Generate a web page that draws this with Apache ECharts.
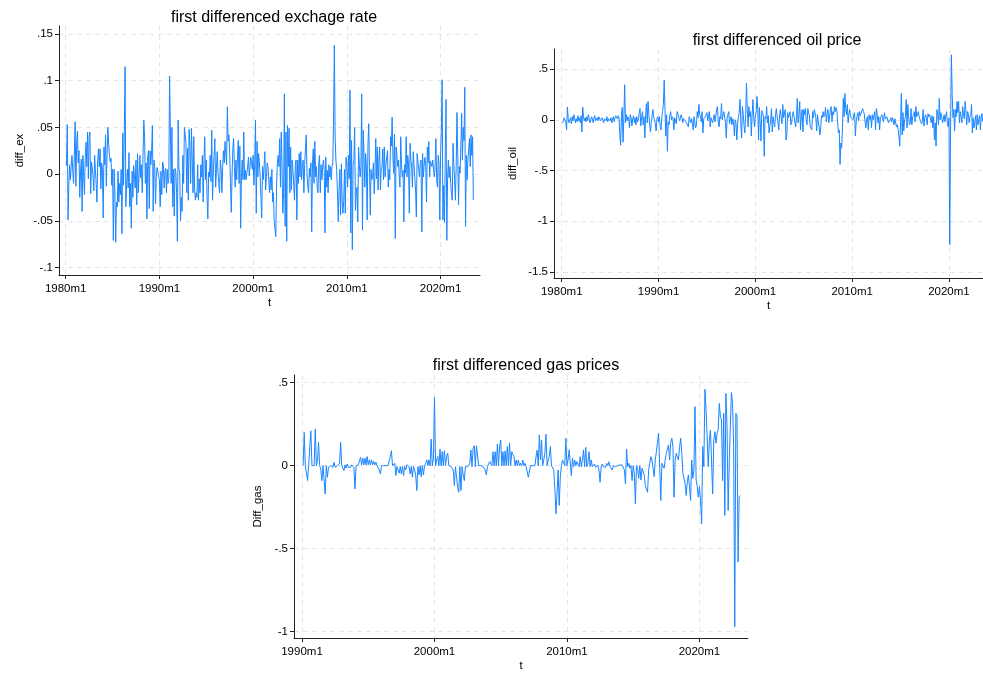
<!DOCTYPE html>
<html>
<head>
<meta charset="utf-8">
<script src="https://cdn.jsdelivr.net/npm/echarts@6/dist/echarts.min.js"></script>
<style>
  html, body { margin: 0; padding: 0; background: #fff; }
  #chart { width: 983px; height: 675px; }
</style>
</head>
<body>
<div id="chart"></div>
<script>
// monthly time index as in Stata %tm (0 = 1960m1)
const exStart = 241;   // 1980m2
const oilStart = 241;  // 1980m2
const gasStart = 361;  // 1990m2

// first differenced exchange rate, one row per year
const diffEx = [
  .009,.053,-.049,-.012,.010,-.006,.008,.020,.018,-.010,.019,
  .056,-.013,.033,.046,.012,.025,-.025,.003,.016,-.040,.020,.018,
  -.022,.018,.034,.008,.045,-.005,.040,.045,-.021,.013,.012,-.002,
  -.018,.020,.018,-.011,-.030,.015,.027,.008,.027,-.016,.012,.005,
  -.047,.029,.010,.042,-.013,.020,.050,.032,.020,.013,.017,-.012,
  .005,-.071,.005,-.020,-.073,-.030,-.035,.003,-.030,-.010,-.022,.005,
  -.064,.044,-.012,.044,.115,-.035,-.009,.005,-.015,.023,-.035,-.010,
  -.058,.003,-.025,.009,.010,-.015,.015,-.033,.022,-.020,.000,.020,
  -.004,.010,-.020,.020,.058,.040,-.010,.012,-.048,.018,.025,-.037,
  .025,.010,.025,.052,-.040,.015,.008,-.032,-.003,.007,.005,-.002,
  -.007,-.035,.003,-.022,.013,.010,-.015,.003,.006,-.020,.005,-.010,
  -.005,.105,.050,-.010,.050,-.035,.005,-.045,.006,.002,-.020,-.072,
  .058,.005,.002,-.050,-.025,-.040,.020,-.010,.050,.042,.033,-.020,
  .028,-.028,.048,.030,-.010,.049,.015,-.020,.040,-.015,-.028,-.020,
  -.025,.010,-.028,-.005,-.020,.010,-.003,.020,-.030,.012,.040,-.006,
  .015,-.025,-.048,.002,-.003,.020,-.008,.047,-.028,.001,.020,.038,
  -.014,.005,.024,.001,-.010,-.020,.015,.006,-.020,.008,.025,.012,
  .035,.022,.010,.072,.035,.042,.022,-.010,-.041,-.001,.027,.038,
  .008,-.014,.015,-.006,.020,.036,-.010,.030,-.058,-.003,.015,-.006,
  .045,-.006,.004,-.006,-.008,.008,.018,-.002,.008,.018,.011,.005,
  .020,-.012,.011,.058,-.042,.035,-.003,.022,.012,-.003,-.025,-.047,
  .008,-.006,.008,.024,-.017,-.003,.012,.008,.008,-.020,-.003,-.017,
  .005,-.030,-.020,-.051,-.049,-.067,-.014,.011,.020,.008,.038,-.014,
  .045,.010,-.042,-.020,.086,-.056,.045,-.072,.052,.008,.049,-.020,
  .029,-.017,.015,.004,-.012,-.028,.010,.015,-.049,.015,-.010,.022,
  -.003,.024,-.006,.008,.015,-.020,.010,.028,.042,.001,-.014,-.020,
  .006,-.003,.012,-.062,.011,.027,-.010,.035,-.003,.008,-.014,-.020,
  .011,.020,-.020,.010,-.006,.008,.015,.004,-.063,.018,-.014,.004,
  -.020,.010,-.003,.008,-.006,.008,.012,.058,.138,.040,.015,.004,
  -.020,-.051,-.017,.005,-.044,.011,-.030,-.042,-.028,.005,-.042,.018,
  .008,-.014,.020,-.005,.090,-.063,.036,-.081,.010,.015,.050,-.039,
  -.020,-.014,-.051,.029,.010,-.003,.008,.086,-.060,.047,.020,-.014,
  .022,.010,-.049,.030,.054,.008,-.044,.005,-.006,-.003,.012,-.021,
  -.001,.038,-.005,.029,-.017,.015,.029,-.017,.005,.008,.027,-.006,
  .029,-.003,.010,.008,.025,-.014,.005,-.006,.040,.030,.061,.018,
  .001,.043,-.069,.029,.022,.008,.015,-.003,-.014,.040,.010,-.003,
  .004,-.051,.010,.001,.040,-.003,.020,.011,-.042,.033,.015,.008,
  -.014,.024,.010,-.003,-.017,-.046,.022,.024,.005,-.003,.011,.015,
  -.062,.022,-.003,.010,.018,.008,-.030,.029,.012,.035,-.003,.014,
  .011,.008,.015,.005,-.003,.008,.038,-.006,-.014,.020,.011,-.049,
  .020,.047,.101,-.049,-.012,-.052,.020,.080,-.071,-.006,.015,-.004,
  .008,-.010,-.021,-.028,.033,.010,-.006,-.028,.008,.066,.020,-.033,
  .008,.001,.030,.065,.015,.050,.036,.093,-.056,.020,-.006,.015,
  .015,.038,.008,.042,.020,.040,-.028
];

// first differenced oil price
const diffOil = [
  -.03,-.01,.02,.01,-.02,-.10,.125,.01,-.03,-.02,.02,
  -.04,.03,-.01,.05,.02,-.03,.01,-.02,.04,-.01,.02,-.03,
  .04,-.12,.125,.03,-.01,.02,-.02,.03,-.01,.05,.01,-.03,
  -.02,.03,.01,-.03,.02,.04,-.01,-.02,.02,-.01,.03,.01,
  -.01,-.02,.02,.01,-.03,.01,.02,-.01,.03,-.02,.01,.02,
  -.01,.02,-.03,.01,.03,-.02,.02,.04,.03,.01,.04,.02,
  -.15,-.25,.05,.12,-.22,.02,.345,-.03,.05,-.01,.03,.01,
  -.08,.05,.02,-.06,.01,.04,-.03,.02,-.05,.03,-.02,.01,
  .06,.11,-.06,.02,.08,-.05,.03,-.18,.05,.16,-.03,.18,
  .05,-.05,-.12,-.03,.04,.10,.02,0,-.04,-.11,.01,.03,
  -.02,.03,-.06,-.10,.02,.08,.15,.39,.10,-.16,.05,-.31,
  -.02,-.05,.04,.08,0,.03,.01,-.10,.02,.03,-.04,.08,
  .08,.03,-.01,.01,.05,.02,-.03,.01,.02,0,-.02,-.03,
  -.02,-.07,.03,0,-.03,.01,-.04,-.10,.03,.02,-.08,-.05,
  .08,.02,.15,.05,.03,-.02,.08,-.13,.01,0,.03,.04,
  .07,-.01,0,.08,-.07,.02,.03,-.03,.01,.05,-.02,.04,
  .10,.13,-.02,-.07,.03,.01,.16,0,.05,.08,.02,-.03,
  -.18,.02,.03,.08,-.04,0,.03,-.05,.01,-.02,-.16,0,
  -.03,-.20,-.05,.03,.07,.20,-.04,-.18,.13,.05,-.06,-.13,
  .05,.36,.10,-.07,.13,.03,.08,-.16,.05,.20,.02,-.07,
  .04,.07,.23,.10,-.20,.12,-.03,-.21,.09,.07,.03,-.36,
  .03,.01,.13,-.03,.04,-.13,-.06,0,.11,-.12,.03,-.03,
  -.07,.05,.11,.03,-.02,-.10,.04,.10,.03,-.04,.15,.02,
  .03,.10,-.20,-.15,.07,.02,.03,.08,-.05,-.03,.05,.08,
  .03,.02,-.07,.03,.21,-.03,.05,.18,-.10,.04,.10,-.12,
  .10,.05,.11,0,-.05,.11,.07,.04,-.07,-.08,-.10,.08,
  .02,.10,.07,.02,-.11,.05,-.02,-.07,-.15,-.08,.04,.02,
  .08,.03,.05,.12,-.02,.06,.10,-.03,.03,.10,.13,-.02,
  .08,.05,.13,.08,.12,.10,-.03,-.13,-.10,-.44,-.23,-.28,
  -.08,.21,.03,.26,.10,.05,.15,-.03,.06,.10,.03,.02,
  .03,0,.05,.07,-.16,-.02,.03,.07,-.01,.08,.04,.05,
  .03,.11,.08,.06,-.02,-.08,.01,.03,-.10,.05,0,.04,
  -.08,.05,0,.04,.08,-.10,.11,.06,-.03,.03,-.10,.02,
  .03,.05,0,-.02,.07,.01,0,.03,.02,-.03,-.02,0,
  .02,-.02,.02,-.01,-.05,.01,-.03,-.07,-.05,-.10,-.16,-.26,
  -.03,.26,-.15,.07,-.11,0,.03,.20,-.08,.15,.03,-.05,
  -.03,.11,-.05,.03,.05,.08,-.02,.13,.03,.06,.08,.03,
  .02,-.02,-.04,-.02,.10,-.06,.02,.05,.02,-.05,.06,.03,
  .05,.02,-.03,.04,-.08,.03,-.20,-.03,-.26,.10,.05,-.05,
  .21,0,.07,.03,-.03,0,.05,-.02,.04,.08,-.03,-.07,
  .02,-1.23,-.10,.64,.25,.02,.10,-.11,.10,.03,.18,.07,
  .18,-.03,.08,.03,-.03,.13,.05,.01,.18,.10,-.05,.08,
  .06,-.03,.03,.05,.15,-.13,.02,-.08,-.03,.04,-.10,.05,
  -.05,0,.04,-.10,.03,.06,-.02
];

// first differenced gas prices
const diffGas = [
  0,.20,0,0,-.09,0,0,.21,0,.01,0,
  .22,0,.03,.14,0,-.02,-.09,0,-.01,-.17,0,-.07,
  -.01,-.02,0,.005,-.01,.02,-.01,-.01,0,.01,.01,.14,
  0,-.01,-.03,.005,-.015,.01,-.01,0,-.01,.005,0,-.01,
  -.14,0,0,.005,.015,.05,.005,.045,.005,.045,.005,.055,
  .005,.035,.005,.035,.005,.025,.005,.02,0,.005,-.025,-.05,
  0,0,0,0,0,0,0,0,.055,.09,0,-.005,
  .015,-.06,-.005,-.025,-.045,-.005,-.05,-.005,-.06,-.005,-.025,.005,
  .005,-.005,-.05,-.005,-.07,-.005,-.025,-.056,-.15,-.006,-.056,0,
  -.066,0,-.056,0,.014,.035,0,.035,0,.16,0,.035,
  .41,0,.035,.055,0,.10,0,.085,0,.09,0,.055,
  .075,0,0,-.006,0,-.026,-.12,-.006,0,-.13,-.16,-.006,
  -.15,-.006,-.056,-.09,-.006,-.006,-.006,0,.014,.094,-.006,.104,
  .12,-.006,.12,.12,0,0,0,-.006,-.006,-.006,-.026,-.056,
  -.006,0,.024,.034,0,.084,0,.084,0,.13,0,.114,
  .155,0,.084,0,.09,0,.115,0,.135,0,.084,.074,
  .054,0,.034,0,.034,0,.014,0,.034,0,.014,-.006,
  -.016,-.07,-.07,0,-.006,0,-.006,0,.054,.094,0,.185,
  .034,.155,0,.034,.074,.19,0,.034,.054,.115,0,-.006,
  -.026,-.13,-.29,-.17,-.026,-.24,-.066,0,.034,.034,0,.165,
  0,.034,.095,.095,-.06,.045,-.006,.034,0,.024,.034,-.006,
  .054,-.006,.034,.095,-.006,.11,-.006,.014,.084,-.006,.034,-.006,
  -.006,.01,-.01,0,.004,-.026,-.10,-.006,.01,-.006,.004,-.01,
  .014,0,.024,-.006,-.016,-.026,0,-.006,-.006,.004,0,-.006,
  .004,0,.004,0,-.026,-.11,.10,-.006,.014,-.016,0,-.09,
  0,-.046,-.23,0,-.016,-.076,0,-.086,-.016,-.006,-.056,-.12,
  -.126,-.16,-.026,.014,.054,.034,-.016,-.066,.034,.084,.14,.195,
  -.006,-.21,.014,.004,-.016,.034,.074,.084,.125,.034,.14,.165,
  .115,-.19,.034,.074,.054,.034,.11,.165,.084,-.046,-.056,-.106,
  -.18,-.096,-.056,-.126,-.21,.034,-.076,-.026,.355,-.086,-.126,-.19,
  -.126,-.21,-.35,.115,-.006,.46,.335,.175,-.006,.155,.215,.225,
  -.17,.155,.205,.135,.195,.215,.375,.295,.275,-.09,.315,-.30,
  .435,.235,-.27,.014,.235,.44,.375,.115,-.97,.315,.30,-.58,
  -.19,-.18
];

// tick positions
const exXTicks = [240, 360, 480, 600, 720];
const exYTicks = [-.1, -.05, 0, .05, .1, .15];
const oilXTicks = [240, 360, 480, 600, 720];
const oilYTicks = [-1.5, -1, -.5, 0, .5];
const gasXTicks = [360, 480, 600, 720];
const gasYTicks = [-1, -.5, 0, .5];

const titles = ["first differenced exchage rate", "first differenced oil price", "first differenced gas prices"];

const FONT = "'Liberation Sans', Arial, Helvetica, sans-serif";
const LINE = "#1a85ff";

function toPairs(start, vals) {
  return vals.map((v, i) => [start + i, v]);
}
function monthLabel(v) {
  return (1960 + Math.floor(v / 12)) + "m" + ((v % 12) + 1);
}
function numLabel(v) {
  if (v === 0) return "0";
  return String(v).replace("0.", ".");
}

const chart = echarts.init(document.getElementById("chart"), null, { renderer: "canvas" });

function xAxis(gridIndex, min, max, ticks) {
  return {
    type: "value",
    gridIndex: gridIndex,
    min: min,
    max: max,
    name: "t",
    nameLocation: "middle",
    nameGap: 22,
    nameTextStyle: { fontFamily: FONT, fontSize: 11.5, color: "#000" },
    axisLine: { show: true, onZero: false, lineStyle: { color: "#222", width: 1 } },
    axisTick: { show: true, length: 4, customValues: ticks, lineStyle: { color: "#222" } },
    axisLabel: {
      customValues: ticks,
      formatter: monthLabel,
      fontFamily: FONT,
      fontSize: 11.5,
      color: "#000",
      margin: 8,
    },
    splitLine: { show: true, lineStyle: { color: "#e6e6e6", type: [5, 4], width: 1 } },
  };
}

function yAxis(gridIndex, min, max, ticks, name, gap) {
  return {
    type: "value",
    gridIndex: gridIndex,
    min: min,
    max: max,
    name: name,
    nameLocation: "middle",
    nameGap: gap,
    nameRotate: 90,
    nameTextStyle: { fontFamily: FONT, fontSize: 11.5, color: "#000" },
    axisLine: { show: true, onZero: false, lineStyle: { color: "#222", width: 1 } },
    axisTick: { show: true, length: 4, customValues: ticks, lineStyle: { color: "#222" } },
    axisLabel: {
      customValues: ticks,
      formatter: numLabel,
      fontFamily: FONT,
      fontSize: 11.5,
      color: "#000",
      margin: 6,
    },
    splitLine: { show: true, lineStyle: { color: "#e6e6e6", type: [5, 4], width: 1 } },
  };
}

function lineSeries(idx, data) {
  return {
    type: "line",
    xAxisIndex: idx,
    yAxisIndex: idx,
    data: data,
    symbol: "none",
    lineStyle: { color: LINE, width: 1 },
    itemStyle: { color: LINE },
    animation: false,
  };
}

const option = {
  backgroundColor: "#fff",
  animation: false,
  title: [
    { text: titles[0], left: 269, top: 5, textAlign: "center", textStyle: { fontFamily: FONT, fontSize: 16, fontWeight: "normal", color: "#000" } },
    { text: titles[1], left: 772, top: 28, textAlign: "center", textStyle: { fontFamily: FONT, fontSize: 16, fontWeight: "normal", color: "#000" } },
    { text: titles[2], left: 521, top: 353, textAlign: "center", textStyle: { fontFamily: FONT, fontSize: 16, fontWeight: "normal", color: "#000" } },
  ],
  grid: [
    { left: 59, top: 26, width: 421, height: 249 },
    { left: 554, top: 49, width: 429, height: 229 },
    { left: 294, top: 375, width: 454, height: 263 },
  ],
  xAxis: [
    xAxis(0, 231.4, 770.5, exXTicks),
    xAxis(1, 230.4, 762.2, oilXTicks),
    xAxis(2, 352.75, 764, gasXTicks),
  ],
  yAxis: [
    yAxis(0, -0.1081, 0.1586, exYTicks, "diff_ex", 33),
    yAxis(1, -1.559, 0.697, oilYTicks, "diff_oil", 35),
    yAxis(2, -1.038, 0.546, gasYTicks, "Diff_gas", 30),
  ],
  series: [
    lineSeries(0, toPairs(exStart, diffEx)),
    lineSeries(1, toPairs(oilStart, diffOil)),
    lineSeries(2, toPairs(gasStart, diffGas)),
  ],
};

chart.setOption(option);
</script>
</body>
</html>
